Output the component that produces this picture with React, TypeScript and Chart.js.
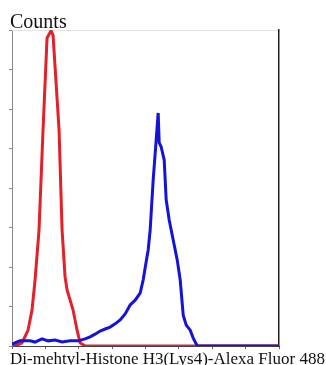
import React, { useEffect, useRef } from "react";
import { Chart, registerables } from "chart.js";

Chart.register(...registerables);

const xTicks = [0, 100, 200, 300, 400, 500, 600, 700, 800];
const yTicks = [0, 100, 200, 300, 400, 500, 600, 700, 800];

const redX = [0, 15, 30, 48, 60, 69, 81, 93, 105, 117, 123, 141, 150, 159, 165, 183, 195, 204, 219, 800];
const redY = [0, 2, 8, 40, 91, 167, 294, 547, 780, 798, 787, 547, 294, 175, 142, 91, 40, 8, 0, 0];

const blueX = [0, 24, 54, 69, 90, 108, 129, 150, 174, 198, 219, 234, 249, 264, 279, 294, 309, 324, 339, 354, 369, 384, 393, 402, 408, 414, 423, 432, 438, 441, 447, 456, 462, 471, 480, 495, 504, 513, 522, 534, 543, 555, 800];
const blueY = [5, 13, 13, 10, 18, 13, 15, 10, 13, 13, 18, 23, 30, 38, 43, 48, 56, 66, 81, 104, 116, 134, 167, 213, 243, 294, 420, 522, 590, 515, 504, 471, 370, 319, 281, 218, 167, 78, 53, 40, 20, 0, 0];

const yTitle = "Counts";
const xTitle = "Di-mehtyl-Histone H3(Lys4)-Alexa Fluor 488";

const toPoints = (xs: number[], ys: number[]) => xs.map((x, i) => ({ x, y: ys[i] }));

const textPlugin = {
  id: "textPlugin",
  afterDraw(chart: any) {
    const ctx = chart.ctx;
    ctx.save();
    ctx.fillStyle = "#111";
    ctx.textAlign = "left";
    ctx.textBaseline = "alphabetic";
    ctx.font = "20px 'Liberation Serif'";
    ctx.fillText(yTitle, 10, 28);
    ctx.font = "17px 'Liberation Serif'";
    ctx.fillText(xTitle, 10, 363.5);
    ctx.restore();
  },
};

export default function App() {
  const ref = useRef<HTMLCanvasElement>(null);
  useEffect(() => {
    if (!ref.current) return;
    const chart = new Chart(ref.current, {
      type: "line",
      data: {
        datasets: [
          {
            label: "sample",
            data: toPoints(blueX, blueY),
            borderColor: "#1414d8",
            borderWidth: 3,
            pointRadius: 0,
            tension: 0,
            fill: false,
          },
          {
            label: "control",
            data: toPoints(redX, redY),
            borderColor: "#e2212a",
            borderWidth: 3,
            pointRadius: 0,
            tension: 0,
            fill: false,
          },
        ],
      },
      options: {
        animation: false,
        responsive: false,
        parsing: true,
        layout: { padding: 0 },
        plugins: { legend: { display: false }, tooltip: { enabled: false }, title: { display: false } },
        scales: {
          x: {
            type: "linear",
            position: "bottom",
            min: 0,
            max: 800,
            afterBuildTicks: (s: any) => { s.ticks = xTicks.map((v) => ({ value: v })); },
            ticks: { display: false },
            grid: { drawOnChartArea: false, tickLength: 3, tickColor: "#666", tickWidth: 1 },
            border: { display: true, color: "#444", width: 1 },
            afterFit: (s: any) => { s.height = 19; },
          },
          y: {
            type: "linear",
            position: "left",
            min: 0,
            max: 800,
            afterBuildTicks: (s: any) => { s.ticks = yTicks.map((v) => ({ value: v })); },
            ticks: { display: false },
            grid: { drawOnChartArea: false, tickLength: 3, tickColor: "#888", tickWidth: 1 },
            border: { display: true, color: "#888", width: 1 },
            afterFit: (s: any) => { s.width = 12; },
          },
          x2: {
            type: "linear",
            position: "top",
            ticks: { display: false },
            grid: { display: false },
            border: { display: true, color: "#e4e4e4", width: 1 },
            afterFit: (s: any) => { s.height = 30; },
          },
          y2: {
            type: "linear",
            position: "right",
            ticks: { display: false },
            grid: { display: false },
            border: { display: true, color: "#222", width: 1.5 },
            afterFit: (s: any) => { s.width = 47; },
          },
        },
      },
      plugins: [textPlugin],
    } as any);
    return () => chart.destroy();
  }, []);
  return (
    <div style={{ position: "fixed", left: 0, top: 0, width: 326, height: 365, background: "#fff" }}>
      <canvas ref={ref} width={326} height={365} />
    </div>
  );
}
